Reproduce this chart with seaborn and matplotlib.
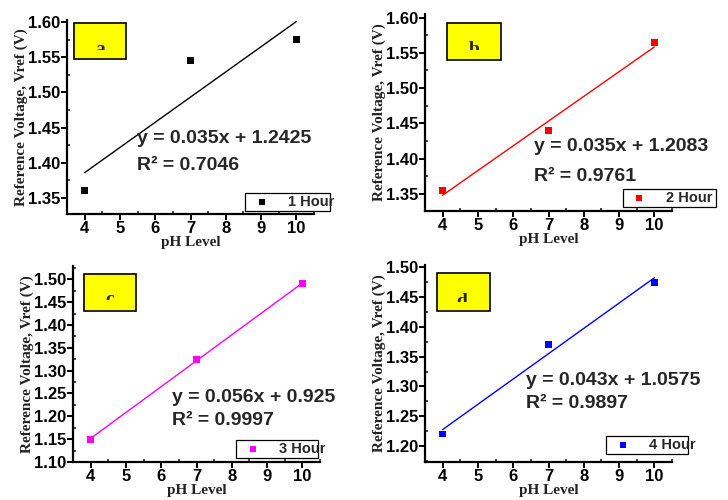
import matplotlib
matplotlib.use("Agg")
import matplotlib.pyplot as plt
import seaborn as sns
import pandas as pd
from matplotlib.patches import Rectangle
from matplotlib.ticker import MultipleLocator, FormatStrFormatter
from matplotlib.transforms import Bbox, TransformedBbox

# ---------------- data ----------------
ph = [4, 7, 10]
vref_1h = [1.36, 1.545, 1.575]
vref_2h = [1.355, 1.44, 1.565]
vref_3h = [1.15, 1.325, 1.49]
vref_4h = [1.22, 1.37, 1.475]
series_labels = ["1 Hour", "2 Hour", "3 Hour", "4 Hour"]
equations = ["y = 0.035x + 1.2425", "y = 0.035x + 1.2083",
             "y = 0.056x + 0.925", "y = 0.043x + 1.0575"]
r_squared = ["R² = 0.7046", "R² = 0.9761", "R² = 0.9997", "R² = 0.9897"]
panel_letters = ["a", "b", "c", "d"]
colors = ["#000000", "#FF0000", "#FF00FF", "#0000FF"]
x_label = "pH Level"
y_label = "Reference Voltage, Vref (V)"

# ---------------- style ----------------
sns.set_style("ticks")
plt.rcParams["font.family"] = ["Liberation Sans", "DejaVu Sans"]

W, H = 728, 500
fig = plt.figure(figsize=(W / 100, H / 100), dpi=100)

def px_axes(left, top, right, bottom):
    return fig.add_axes([left / W, (H - bottom) / H, (right - left) / W, (bottom - top) / H])

# layout in pixels: left, top, right, bottom
layout = [(67, 20, 314, 214), (425, 14, 672, 211), (73, 266, 320, 462), (425, 265, 672, 462)]
ylims = [(1.327, 1.603), (1.326, 1.605), (1.10, 1.529), (1.173, 1.504)]
legend_boxes = [(0.72, 0.015, 0.345, 0.083), (0.80, 0.02, 0.38, 0.09),
                (0.66, 0.02, 0.33, 0.08), (0.733, 0.04, 0.33, 0.08)]
yellow_boxes = [(0.028, 0.80, 0.24, 0.985), (0.089, 0.766, 0.308, 0.954),
                (0.044, 0.77, 0.254, 0.959), (0.049, 0.766, 0.263, 0.959)]
letter_pos = [(0.134, 0.845), (0.198, 0.817), (0.149, 0.827), (0.15, 0.812)]
eq_pos = [(0.285, 0.39, 0.25), (0.44, 0.325, 0.174), (0.40, 0.327, 0.214), (0.41, 0.414, 0.296)]

all_vref = [vref_1h, vref_2h, vref_3h, vref_4h]

for i in range(4):
    ax = px_axes(*layout[i])
    ax_h_px = layout[i][3] - layout[i][1]
    df = pd.DataFrame({"pH": ph, "Vref": all_vref[i]})
    sns.regplot(data=df, x="pH", y="Vref", scatter=False, ci=None, ax=ax,
                line_kws=dict(color=colors[i], lw=1.0))
    sns.scatterplot(data=df, x="pH", y="Vref", marker="s", s=24, color=colors[i],
                    edgecolor="none", ax=ax, label=series_labels[i], zorder=5)

    ax.set_xlim(3.5, 10.5)
    ax.set_ylim(*ylims[i])
    ax.xaxis.set_major_locator(MultipleLocator(1))
    ax.xaxis.set_minor_locator(MultipleLocator(0.5))
    ax.yaxis.set_major_locator(MultipleLocator(0.05))
    ax.yaxis.set_minor_locator(MultipleLocator(0.025))
    ax.yaxis.set_major_formatter(FormatStrFormatter("%.2f"))

    for s in ["top", "right"]:
        ax.spines[s].set_visible(False)
    for s in ["left", "bottom"]:
        ax.spines[s].set_linewidth(1.6)
        ax.spines[s].set_color("black")
    ax.tick_params(which="major", direction="out", length=4, width=1.4, pad=1,
                   labelsize=12, colors="black")
    ax.tick_params(which="minor", direction="in", length=2.5, width=1.2)
    for lab in ax.get_xticklabels() + ax.get_yticklabels():
        lab.set_fontweight("bold")
        lab.set_family(["Liberation Sans", "DejaVu Sans"])

    ax.set_xlabel(x_label, fontsize=11, fontweight="bold",
                  family=["Liberation Serif", "DejaVu Serif"], labelpad=0, color="#222222")
    ax.set_ylabel(y_label, fontsize=11, fontweight="bold",
                  family=["Liberation Serif", "DejaVu Serif"], labelpad=0, color="#222222")

    # legend
    lx, ly, lw, lh = legend_boxes[i]
    leg = ax.legend(loc="lower left", bbox_to_anchor=(lx, ly, lw, lh), mode="expand",
                    fancybox=False, framealpha=1, edgecolor="black", borderaxespad=0,
                    borderpad=0.15, handletextpad=0.8, markerscale=0.9,
                    prop=dict(family=["Liberation Sans", "DejaVu Sans"], size=10.5, weight="bold"))
    leg.get_frame().set_linewidth(0.9)

    # yellow panel label box
    x0, y0, x1, y1 = yellow_boxes[i]
    ax.add_patch(Rectangle((x0, y0), x1 - x0, y1 - y0, transform=ax.transAxes,
                           facecolor="#FFFF00", edgecolor="black", lw=1.2, zorder=6,
                           clip_on=False))
    tx, cy = letter_pos[i]
    t = ax.text(tx, cy - 4.0 / ax_h_px, panel_letters[i], transform=ax.transAxes, ha="center",
                va="baseline", fontsize=14, fontweight="bold",
                family=["Liberation Serif", "DejaVu Serif"], zorder=7)
    t.set_clip_box(TransformedBbox(Bbox([[x0, cy], [x1, y1]]), ax.transAxes))
    t.set_clip_on(True)

    # equations
    ex, ey1, ey2 = eq_pos[i]
    for txt, ey in [(equations[i], ey1), (r_squared[i], ey2)]:
        ax.text(ex, ey, txt, transform=ax.transAxes, ha="left", va="center",
                fontsize=14, fontweight="bold",
                family=["Liberation Sans", "DejaVu Sans"], zorder=8)

fig.savefig("out.png", dpi=100)
